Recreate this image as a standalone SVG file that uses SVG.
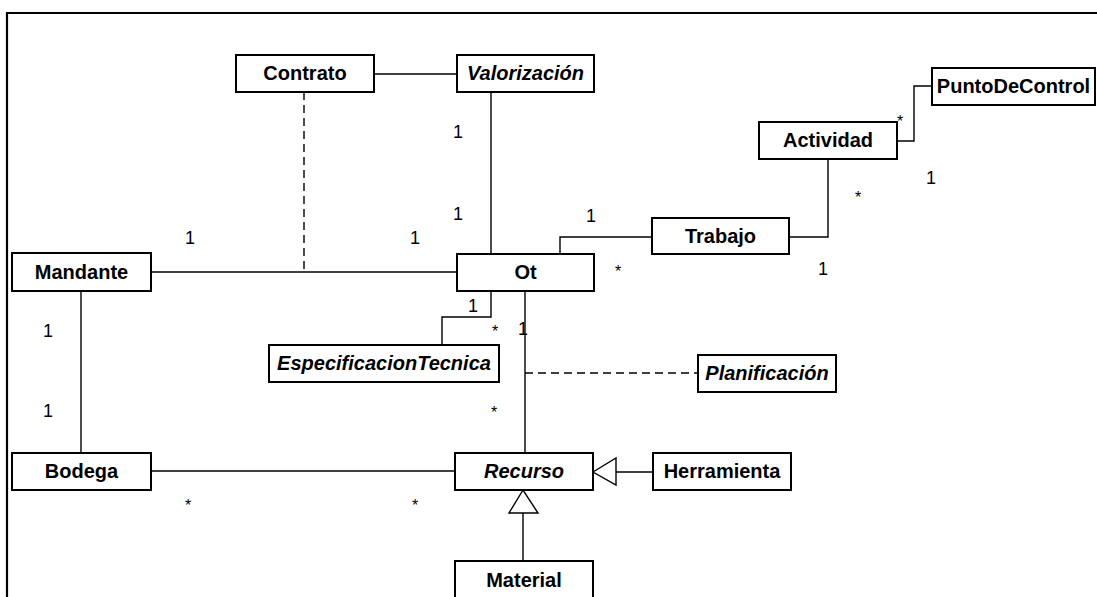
<svg xmlns="http://www.w3.org/2000/svg" width="1097" height="597" viewBox="0 0 1097 597">
  <style>
    .box { fill: #ffffff; stroke: #000000; stroke-width: 2; }
    .name { font-family: "Liberation Sans", Arial, sans-serif; font-size: 20px; font-weight: bold; text-anchor: middle; fill: #000000; }
    .abstract { font-style: italic; }
    .line { fill: none; stroke: #000000; stroke-width: 1.4; }
    .dash { stroke-dasharray: 8 5; }
    .mult { font-family: "Liberation Sans", Arial, sans-serif; font-size: 18px; text-anchor: middle; fill: #000000; }
    .star { font-size: 16px; }
    .head { fill: #ffffff; stroke: #000000; stroke-width: 1.4; }
  </style>

  <!-- page frame -->
  <rect x="0" y="0" width="1097" height="597" fill="#ffffff"/>
  <path d="M7,600 V13 H1100" fill="none" stroke="#000000" stroke-width="2.2"/>

  <!-- associations, association classes and generalizations -->
  <g id="connectors">
    <path class="line" d="M374,74 H457"/>
    <path class="line" d="M491,92 V254"/>
    <path class="line dash" d="M304,92 V272"/>
    <path class="line" d="M151,272 H457"/>
    <path class="line" d="M560,254 V237 H652"/>
    <path class="line" d="M789,237 H828 V159"/>
    <path class="line" d="M897,141 H914 V86 H932"/>
    <path class="line" d="M491,291 V317 H442 V345"/>
    <path class="line" d="M525,291 V453"/>
    <path class="line dash" d="M525,373 H698"/>
    <path class="line" d="M81,291 V453"/>
    <path class="line" d="M151,471 H455"/>
    <path class="line" d="M653,472 H616"/>
    <polygon class="head" points="593,472 616,458 616,485"/>
    <path class="line" d="M523,561 V513"/>
    <polygon class="head" points="523,490 509,513 538,513"/>
  </g>

  <!-- multiplicities -->
  <g id="multiplicities">
    <text class="mult" x="458" y="138">1</text>
    <text class="mult" x="458" y="220">1</text>
    <text class="mult" x="415" y="244">1</text>
    <text class="mult" x="190" y="244">1</text>
    <text class="mult" x="591" y="222">1</text>
    <text class="mult star" x="618" y="277">*</text>
    <text class="mult star" x="900" y="127">*</text>
    <text class="mult" x="931" y="184">1</text>
    <text class="mult star" x="858" y="203">*</text>
    <text class="mult" x="823" y="275">1</text>
    <text class="mult" x="48" y="337">1</text>
    <text class="mult" x="48" y="417">1</text>
    <text class="mult" x="473" y="312">1</text>
    <text class="mult star" x="495" y="337">*</text>
    <text class="mult" x="523" y="335">1</text>
    <text class="mult star" x="494" y="418">*</text>
    <text class="mult star" x="188" y="511">*</text>
    <text class="mult star" x="415" y="511">*</text>
  </g>

  <!-- classes -->
  <g id="contrato">
    <rect class="box" x="236" y="55" width="138" height="37"/>
    <text class="name" x="305" y="80">Contrato</text>
  </g>
  <g id="valorizacion">
    <rect class="box" x="457" y="55" width="137" height="37"/>
    <text class="name abstract" x="525.5" y="80">Valorización</text>
  </g>
  <g id="puntodecontrol">
    <rect class="box" x="932" y="68" width="163" height="37"/>
    <text class="name" x="1013.5" y="93">PuntoDeControl</text>
  </g>
  <g id="actividad">
    <rect class="box" x="759" y="122" width="138" height="37"/>
    <text class="name" x="828" y="147">Actividad</text>
  </g>
  <g id="trabajo">
    <rect class="box" x="652" y="218" width="137" height="36"/>
    <text class="name" x="720.5" y="243">Trabajo</text>
  </g>
  <g id="mandante">
    <rect class="box" x="12" y="253" width="139" height="38"/>
    <text class="name" x="81.5" y="279">Mandante</text>
  </g>
  <g id="ot">
    <rect class="box" x="457" y="254" width="137" height="37"/>
    <text class="name" x="525.5" y="279">Ot</text>
  </g>
  <g id="especificaciontecnica">
    <rect class="box" x="269" y="345" width="230" height="37"/>
    <text class="name abstract" x="384" y="370">EspecificacionTecnica</text>
  </g>
  <g id="planificacion">
    <rect class="box" x="698" y="355" width="138" height="37"/>
    <text class="name abstract" x="767" y="380">Planificación</text>
  </g>
  <g id="bodega">
    <rect class="box" x="12" y="453" width="139" height="37"/>
    <text class="name" x="81.5" y="478">Bodega</text>
  </g>
  <g id="recurso">
    <rect class="box" x="455" y="453" width="138" height="37"/>
    <text class="name abstract" x="524" y="478">Recurso</text>
  </g>
  <g id="herramienta">
    <rect class="box" x="653" y="453" width="138" height="37"/>
    <text class="name" x="722" y="478">Herramienta</text>
  </g>
  <g id="material">
    <rect class="box" x="455" y="561" width="138" height="40"/>
    <text class="name" x="524" y="587">Material</text>
  </g>
</svg>
